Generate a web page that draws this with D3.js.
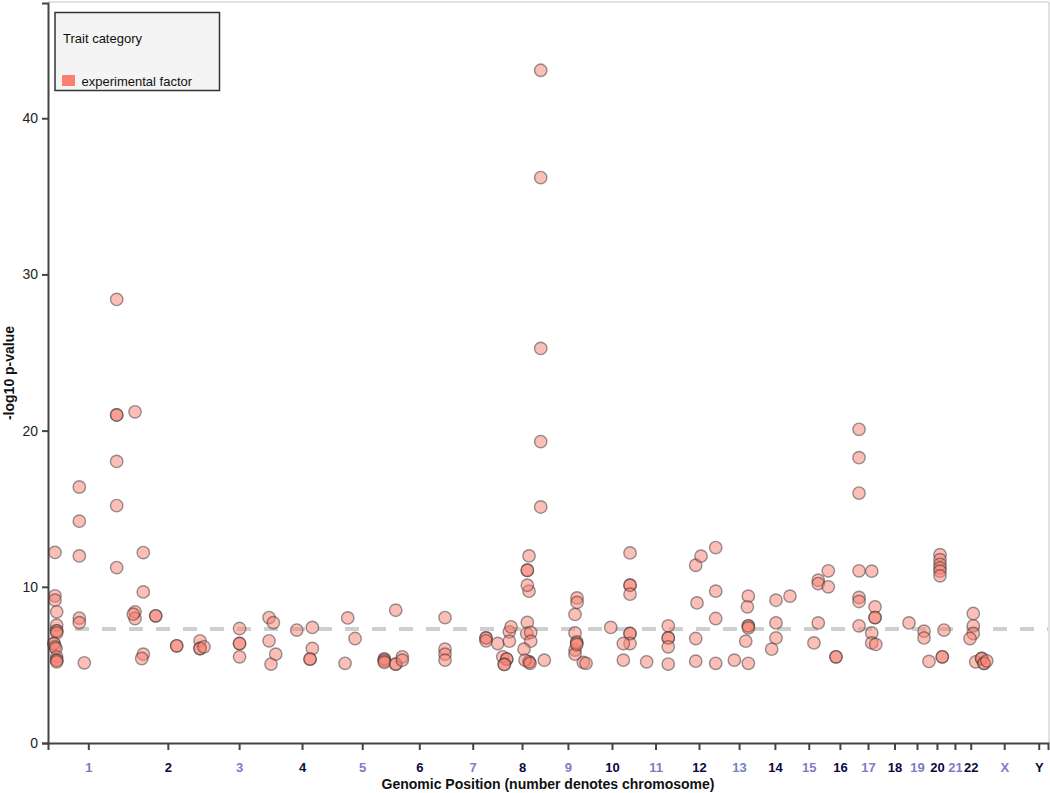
<!DOCTYPE html>
<html>
<head>
<meta charset="utf-8">
<script src="https://cdn.jsdelivr.net/npm/d3@7"></script>
<style>
  html, body { margin: 0; padding: 0; background: #fff; }
  svg { display: block; font-family: "Liberation Sans", Arial, sans-serif; }
</style>
</head>
<body>
<svg id="chart" width="1050" height="793"></svg>
<script>
// ---- Data ----
const chromosomes = ["1","2","3","4","5","6","7","8","9","10","11","12","13","14","15","16","17","18","19","20","21","22","X","Y"];
// chromosome lengths (Mb)
const chromLengths = [248.96,242.19,198.30,190.21,181.54,170.81,159.35,145.14,138.39,133.80,135.09,133.28,114.36,107.04,101.99,90.34,83.26,80.37,58.62,64.44,46.71,50.82,156.04,57.23];

// associations: chromosome, position (Mb), -log10 p
const snpChrom = [
 "1","1","1","1","1","1","1","1","1","1","1","1","1","1","1","1","1","1","1","1","1","1","1","1","1","1","1","1",
 "2","2","2","2","2","2","2","2","2","2","2","2","2","2","2","2",
 "3","3","3","3","3","3","3",
 "4","4","4","4","4","4","4",
 "5","5","5","5","5","5","5",
 "6","6","6","6","6","6","6","6","6",
 "7","7","7","7",
 "8","8","8","8","8","8","8","8","8","8","8","8","8","8","8","8","8","8","8","8","8","8","8","8","8","8","8","8",
 "9","9","9","9","9","9","9","9","9","9","9",
 "10","10","10","10","10","10","10","10","10","10",
 "11","11","11","11","11","11",
 "12","12","12","12","12","12","12","12","12",
 "13","13","13","13","13","13","13","13",
 "14","14","14","14","14",
 "15","15","15","15",
 "16","16","16","16",
 "17","17","17","17","17","17","17","17","17","17","17","17","17","17",
 "19","19","19",
 "20","20","20","20","20","20","20","20","20","20",
 "22","22","22","22","22",
 "X","X","X","X","X"
];
const snpPos = [
 21.6,21.6,21.6,26.9,26.9,26.9,26.9,26.9,18.5,18.5,21.6,24.7,26.9,26.9,26.9,26.9,96.7,96.7,96.7,96.7,96.7,112.1,212.1,212.1,212.1,212.1,212.1,212.1,
 19.8,19.8,19.8,14.5,45.4,45.4,45.4,40.5,83.7,83.7,148.5,148.5,220.5,220.5,220.5,232.8,
 100.4,100.4,100.4,100.4,191.5,191.5,197.6,
 6.5,13.9,78.7,126.9,126.9,119.8,119.8,
 46.0,68.6,37.7,159.0,159.0,159.0,159.0,
 12.7,12.7,12.7,33.0,33.0,164.9,164.9,164.9,164.9,
 120.7,120.7,120.7,156.9,
 33.4,33.4,38.6,13.0,25.3,25.3,17.9,17.9,94.2,94.2,94.2,94.2,88.9,88.9,88.9,88.9,87.1,99.4,99.4,78.7,81.8,97.3,141.4,130.3,130.3,130.3,130.3,130.3,
 97.3,97.3,91.1,91.1,91.1,91.1,96.3,96.3,96.3,116.7,125.1,
 63.0,122.6,122.6,122.6,122.6,122.6,122.6,122.6,101.9,101.9,
 40.1,106.8,106.8,106.8,106.8,106.8,
 56.5,56.5,56.5,60.5,72.9,118.3,118.3,118.3,118.3,
 42.6,85.8,85.8,85.8,85.8,85.8,82.8,77.8,
 56.8,56.8,56.8,43.5,100.0,
 80.3,80.3,80.3,67.0,
 9.3,9.3,33.0,33.0,
 13.9,13.9,13.9,13.9,13.9,13.9,13.9,53.1,53.1,53.1,63.3,63.3,63.3,65.5,
 4.6,51.0,51.0,
 7.7,41.7,41.7,41.7,41.7,41.7,41.7,48.8,48.8,54.0,
 33.4,33.4,33.4,23.2,40.8,
 8.6,8.6,15.7,15.7,24.1
];
const snpLogP = [
 12.2,9.42,9.14,8.4,7.54,7.18,7.18,7.05,6.37,6.37,6.16,6.05,5.52,5.3,5.3,5.2,16.39,14.2,11.98,8.0,7.7,5.13,28.4,21.0,21.0,18.03,15.2,11.23,
 21.2,8.4,7.97,8.25,12.19,9.67,5.69,5.41,8.14,8.14,6.22,6.22,6.54,6.05,6.05,6.16,
 7.33,6.37,6.37,5.52,8.03,6.54,5.05,
 7.7,5.69,7.23,7.4,6.05,5.37,5.37,
 8.01,6.69,5.1,5.37,5.37,5.25,5.16,
 8.5,5.05,5.05,5.52,5.3,8.03,6.01,5.69,5.3,
 6.73,6.73,6.54,6.37,
 7.12,6.52,7.44,5.52,5.37,5.37,5.03,5.03,11.98,9.72,5.2,5.2,11.06,11.06,10.1,7.72,7.01,7.08,6.52,6.01,5.3,5.1,5.3,43.07,36.2,25.26,19.3,15.11,
 9.29,9.0,8.23,7.05,5.95,5.69,6.48,6.4,6.3,5.16,5.1,
 7.4,12.17,10.1,10.1,9.53,7.01,7.01,6.37,6.37,5.3,
 5.2,7.5,6.73,6.73,6.16,5.05,
 11.38,6.69,5.24,8.97,11.96,12.51,9.72,7.97,5.1,
 5.3,9.4,7.5,7.5,7.37,5.1,8.72,6.52,
 9.14,7.69,6.73,6.01,9.4,
 10.42,10.21,7.69,6.41,
 11.02,10.0,5.52,5.52,
 20.08,18.27,16.0,11.02,9.32,9.06,7.5,11.0,7.05,6.41,8.72,8.03,8.03,6.31,
 7.69,7.16,6.73,
 5.22,12.06,11.74,11.44,11.21,11.0,10.7,5.52,5.52,7.23,
 8.29,7.5,7.01,6.69,5.2,
 5.41,5.41,5.1,5.1,5.26
];
const yTicks = [0, 10, 20, 30, 40];
const significanceThreshold = 7.3; // -log10(5e-8)
const legendTitle = "Trait category";
const legendItems = ["experimental factor"];

// ---- Layout ----
const svg = d3.select("#chart");
const plotLeft = 48, plotRight = 1048, plotTop = 3, plotBottom = 743;

const chromStart = [];
let acc = 0;
chromLengths.forEach((l) => { chromStart.push(acc); acc += l; });
const genomeTotal = acc;
const chromIndex = new Map(chromosomes.map((c, i) => [c, i]));

const x = d3.scaleLinear().domain([0, genomeTotal]).range([plotLeft, plotRight]);
const maxP = d3.max(snpLogP);
const y = d3.scaleLinear().domain([0, maxP * 1.1]).range([plotBottom, plotTop]);

// frame (top & right light lines)
svg.append("line").attr("x1", plotLeft).attr("x2", plotRight + 1).attr("y1", 2).attr("y2", 2)
  .attr("stroke", "#e2e2e2").attr("stroke-width", 2);
svg.append("line").attr("x1", plotRight + 1).attr("x2", plotRight + 1).attr("y1", 2).attr("y2", plotBottom)
  .attr("stroke", "#e2e2e2").attr("stroke-width", 2);

// threshold line
svg.append("line")
  .attr("x1", plotLeft).attr("x2", plotRight)
  .attr("y1", y(significanceThreshold)).attr("y2", y(significanceThreshold))
  .attr("stroke", "#cfcfcf").attr("stroke-width", 4)
  .attr("stroke-dasharray", "14,13");

// points
const points = snpChrom.map((c, i) => ({
  chr: c, pos: snpPos[i], p: snpLogP[i],
  g: chromStart[chromIndex.get(c)] + snpPos[i]
}));
svg.append("g").selectAll("circle").data(points).join("circle")
  .attr("cx", d => x(d.g))
  .attr("cy", d => y(d.p))
  .attr("r", 6.2)
  .attr("fill", "salmon")
  .attr("fill-opacity", 0.5)
  .attr("stroke", "#333")
  .attr("stroke-opacity", 0.5)
  .attr("stroke-width", 1.4);

// axes
const midpoints = chromosomes.map((c, i) => chromStart[i] + chromLengths[i] / 2);
const xAxis = d3.axisBottom(x)
  .tickValues(midpoints)
  .tickFormat((d, i) => chromosomes[i])
  .tickSize(7).tickSizeOuter(7);
const gx = svg.append("g").attr("transform", `translate(0,${plotBottom})`).call(xAxis);
gx.select(".domain").attr("stroke", "#444").attr("stroke-width", 2);
gx.selectAll(".tick line").attr("stroke", "#444").attr("stroke-width", 2);
gx.selectAll(".tick text")
  .attr("font-family", "'Liberation Sans', Arial, sans-serif")
  .attr("font-size", 13).attr("font-weight", "bold")
  .attr("dy", "1.45em")
  .attr("fill", (d, i) => i % 2 === 0 ? "#7c7cc9" : "#0a0a40");

const yAxis = d3.axisLeft(y).tickValues(yTicks).tickSize(6).tickSizeOuter(6);
const gy = svg.append("g").attr("transform", `translate(${plotLeft},0)`).call(yAxis);
gy.select(".domain").attr("stroke", "#444").attr("stroke-width", 2);
gy.selectAll(".tick line").attr("stroke", "#444").attr("stroke-width", 2);
gy.selectAll(".tick text")
  .attr("font-family", "'Liberation Sans', Arial, sans-serif")
  .attr("font-size", 14).attr("fill", "#222").attr("x", -10);

// axis titles
svg.append("text")
  .attr("x", (plotLeft + plotRight) / 2).attr("y", 789)
  .attr("text-anchor", "middle")
  .attr("font-size", 14).attr("font-weight", "bold").attr("fill", "#111")
  .text("Genomic Position (number denotes chromosome)");
svg.append("text")
  .attr("transform", `translate(14,${(plotTop + plotBottom) / 2}) rotate(-90)`)
  .attr("text-anchor", "middle")
  .attr("font-size", 14).attr("font-weight", "bold").attr("fill", "#111")
  .text("-log10 p-value");

// legend
const lg = svg.append("g");
lg.append("rect").attr("x", 55).attr("y", 12.5).attr("width", 164.5).attr("height", 78)
  .attr("fill", "#f4f4f4").attr("stroke", "#333").attr("stroke-width", 1.5);
lg.append("text").attr("x", 63).attr("y", 43).attr("font-size", 13).attr("fill", "#111").text(legendTitle);
legendItems.forEach((t, i) => {
  lg.append("rect").attr("x", 62).attr("y", 75 + i * 20).attr("width", 13).attr("height", 11)
    .attr("fill", "salmon");
  lg.append("text").attr("x", 81.5).attr("y", 86 + i * 20).attr("font-size", 13).attr("fill", "#111").text(t);
});
</script>
</body>
</html>
